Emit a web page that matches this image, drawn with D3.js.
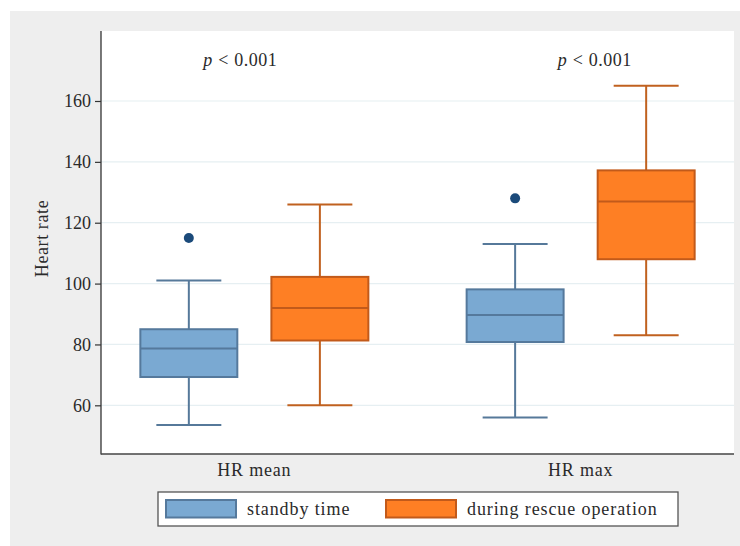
<!DOCTYPE html>
<html>
<head>
<meta charset="utf-8">
<script src="https://cdn.jsdelivr.net/npm/d3@7"></script>
<style>
  html, body { margin: 0; padding: 0; background: #ffffff; }
  svg { display: block; }
  text { font-family: "Liberation Serif", "DejaVu Serif", serif; fill: #2a2a2a; }
</style>
</head>
<body>
<script>
// ---------------- data ----------------
const groups = ["HR mean", "HR max"];
const seriesNames = ["standby time", "during rescue operation"];
// box statistics per group (order matches groups)
const standbyLowerWhisker = [53.5, 56];
const standbyQ1 = [69.3, 80.8];
const standbyMedian = [78.7, 89.7];
const standbyQ3 = [85, 98.1];
const standbyUpperWhisker = [101, 113];
const standbyOutliers = [115, 128];
const rescueLowerWhisker = [60, 83];
const rescueQ1 = [81.3, 108];
const rescueMedian = [92, 127];
const rescueQ3 = [102.2, 137.2];
const rescueUpperWhisker = [126, 165];
const yTicks = [60, 80, 100, 120, 140, 160];
const annotationText = ["0.001", "0.001"];
const annotationX = [22, 78];      // percent of categorical axis
const annotationY = [171.5, 171.5];

// ---------------- build ----------------
const W = 740, H = 546;
const plot = { left: 101, right: 734, top: 31, bottom: 454 };

const svg = d3.select("body").append("svg").attr("width", W).attr("height", H);
svg.append("rect").attr("x", 0).attr("y", 0).attr("width", W).attr("height", H).attr("fill", "#ffffff");
svg.append("rect").attr("x", 10).attr("y", 11).attr("width", W - 10).attr("height", H - 11).attr("fill", "#eeeeee");
svg.append("rect").attr("x", plot.left).attr("y", plot.top)
  .attr("width", plot.right - plot.left).attr("height", plot.bottom - plot.top).attr("fill", "#ffffff");

const y = d3.scaleLinear().domain([44, 183]).range([plot.bottom, plot.top]);
const xGroup = d3.scaleBand().domain(groups).range([plot.left, plot.right])
  .paddingInner(0.4).paddingOuter(0.17);
const xSeries = d3.scalePoint().domain(seriesNames).range([0, xGroup.bandwidth()]).padding(0.247);
const xPct = d3.scaleLinear().domain([0, 100]).range([plot.left, plot.right]);
const boxW = xSeries.step() * 0.74;
const capW = boxW * 0.67;

// gridlines
svg.append("g").selectAll("line").data(yTicks).join("line")
  .attr("x1", plot.left).attr("x2", plot.right)
  .attr("y1", d => y(d)).attr("y2", d => y(d))
  .attr("stroke", "#e6eff2").attr("stroke-width", 1.2);

const styles = {
  "standby time": { fill: "#7aa9d2", stroke: "#55799c", whisker: "#56799a" },
  "during rescue operation": { fill: "#fe7f24", stroke: "#c25a1a", whisker: "#c0611f" }
};

const boxes = [];
groups.forEach((g, i) => {
  boxes.push({ group: g, series: seriesNames[0], lo: standbyLowerWhisker[i], q1: standbyQ1[i], med: standbyMedian[i], q3: standbyQ3[i], hi: standbyUpperWhisker[i], out: [standbyOutliers[i]] });
  boxes.push({ group: g, series: seriesNames[1], lo: rescueLowerWhisker[i], q1: rescueQ1[i], med: rescueMedian[i], q3: rescueQ3[i], hi: rescueUpperWhisker[i], out: [] });
});

const bg = svg.append("g").selectAll("g").data(boxes).join("g")
  .attr("transform", d => `translate(${xGroup(d.group) + xSeries(d.series)},0)`);

// whiskers
bg.append("line").attr("x1", 0).attr("x2", 0).attr("y1", d => y(d.hi)).attr("y2", d => y(d.q3))
  .attr("stroke", d => styles[d.series].whisker).attr("stroke-width", 2);
bg.append("line").attr("x1", 0).attr("x2", 0).attr("y1", d => y(d.lo)).attr("y2", d => y(d.q1))
  .attr("stroke", d => styles[d.series].whisker).attr("stroke-width", 2);
bg.append("line").attr("x1", -capW / 2).attr("x2", capW / 2).attr("y1", d => y(d.hi)).attr("y2", d => y(d.hi))
  .attr("stroke", d => styles[d.series].whisker).attr("stroke-width", 2);
bg.append("line").attr("x1", -capW / 2).attr("x2", capW / 2).attr("y1", d => y(d.lo)).attr("y2", d => y(d.lo))
  .attr("stroke", d => styles[d.series].whisker).attr("stroke-width", 2);
// box
bg.append("rect").attr("x", -boxW / 2).attr("width", boxW)
  .attr("y", d => y(d.q3)).attr("height", d => y(d.q1) - y(d.q3))
  .attr("fill", d => styles[d.series].fill).attr("stroke", d => styles[d.series].stroke).attr("stroke-width", 2);
bg.append("line").attr("x1", -boxW / 2).attr("x2", boxW / 2).attr("y1", d => y(d.med)).attr("y2", d => y(d.med))
  .attr("stroke", d => styles[d.series].stroke).attr("stroke-width", 2);
// outliers
bg.selectAll("circle").data(d => d.out).join("circle")
  .attr("cx", 0).attr("cy", d => y(d)).attr("r", 5).attr("fill", "#1b4a7a");

// axes
const yAxis = d3.axisLeft(y).tickValues(yTicks).tickSize(6).tickPadding(4);
const ya = svg.append("g").attr("transform", `translate(${plot.left},0)`).call(yAxis);
ya.select(".domain").remove();
ya.selectAll(".tick line").attr("stroke", "#333").attr("stroke-width", 1.2);
ya.selectAll(".tick text").attr("font-size", 18).attr("font-family", "Liberation Serif").attr("fill", "#2a2a2a");
svg.append("line").attr("x1", plot.left).attr("x2", plot.left).attr("y1", plot.top).attr("y2", plot.bottom + 0.5)
  .attr("stroke", "#333").attr("stroke-width", 1.3);
svg.append("line").attr("x1", plot.left).attr("x2", plot.right).attr("y1", plot.bottom).attr("y2", plot.bottom)
  .attr("stroke", "#444").attr("stroke-width", 1.5);

// category labels
svg.append("g").selectAll("text").data(groups).join("text")
  .attr("x", d => xGroup(d) + xGroup.bandwidth() / 2).attr("y", 476)
  .attr("text-anchor", "middle").attr("font-size", 18).attr("letter-spacing", 0.8)
  .text(d => d);

// y label
svg.append("text").attr("transform", `translate(48,${(plot.top + plot.bottom) / 2 - 4}) rotate(-90)`)
  .attr("text-anchor", "middle").attr("font-size", 18).attr("letter-spacing", 0.6).text("Heart rate");

// annotations
const ann = svg.append("g").selectAll("text").data(annotationText.map((t, i) => ({ t, x: annotationX[i], y: annotationY[i] })))
  .join("text").attr("x", d => xPct(d.x)).attr("y", d => y(d.y))
  .attr("text-anchor", "middle").attr("font-size", 18);
ann.append("tspan").attr("font-style", "italic").text("p");
ann.append("tspan").attr("dx", 6).text("<");
ann.append("tspan").attr("dx", 6).attr("letter-spacing", 0.5).text(d => d.t);

// legend
const leg = svg.append("g");
leg.append("rect").attr("x", 158).attr("y", 492).attr("width", 520).attr("height", 34)
  .attr("fill", "#ffffff").attr("stroke", "#555").attr("stroke-width", 1.3);
const legX = [166, 386];
const legItems = leg.selectAll("g").data(seriesNames).join("g")
  .attr("transform", (d, i) => `translate(${legX[i]},500)`);
legItems.append("rect").attr("x", 0).attr("y", 0).attr("width", 70).attr("height", 17.5)
  .attr("fill", d => styles[d].fill).attr("stroke", d => styles[d].stroke).attr("stroke-width", 2);
legItems.append("text").attr("x", 81).attr("y", 15).attr("font-size", 18).attr("letter-spacing", 0.9)
  .text(d => d);
</script>
</body>
</html>
